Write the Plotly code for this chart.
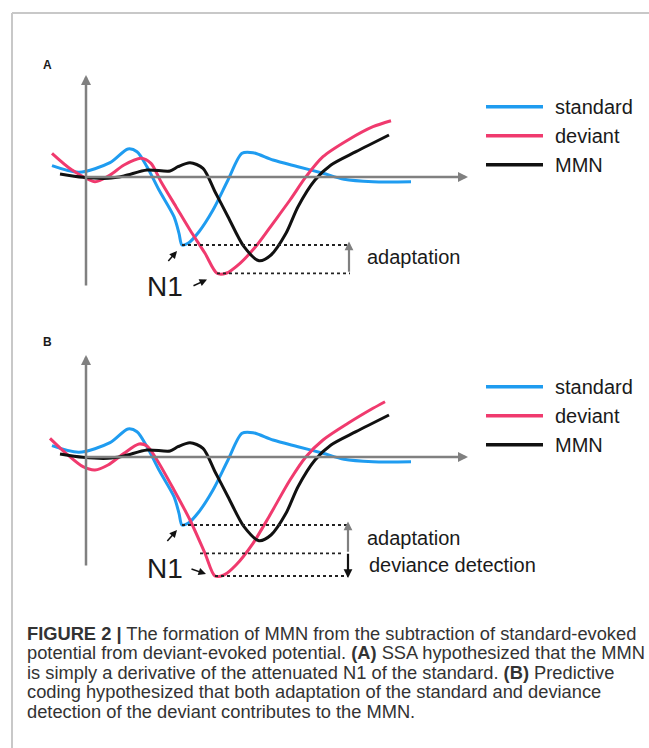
import plotly.graph_objects as go

# ---------------- data (time in ms from stimulus onset, amplitude in arbitrary µV) -------------
std_t = [-34, -7, 24, 42, 51, 61, 73, 88, 93, 96, 102, 113, 127, 142, 156, 167, 187, 212, 237, 258, 287, 325]
std_v = [1.13, 0.47, 1.43, 2.8, 2.53, 1.03, -1.3, -3.97, -5.63, -6.8, -6.63, -5.47, -3.3, -0.3, 2.37, 2.43, 1.7, 1.03, 0.37, -0.23, -0.47, -0.47]

mmn_t = [-26, -3, 22, 38, 61, 84, 92, 104, 117, 129, 142, 158, 173, 185, 200, 212, 229, 245, 270, 303]
mmn_v = [0.3, -0.03, -0.13, 0.1, 0.7, 0.6, 1.03, 1.43, 0.87, -1.47, -3.97, -6.97, -8.37, -7.8, -5.63, -2.97, -0.3, 1.2, 2.53, 4.2]

dev_a_t = [-34, -14, 9, 24, 38, 55, 65, 75, 90, 104, 119, 131, 140, 154, 171, 187, 204, 220, 237, 262, 287, 305]
dev_a_v = [2.37, 0.7, -0.47, 0.2, 1.2, 1.87, 1.37, -0.47, -2.97, -5.3, -7.63, -9.63, -9.63, -8.63, -6.8, -4.63, -2.3, 0.03, 2.03, 3.7, 5.03, 5.63]

dev_b_t = [-36, -20, -3, 9, 22, 38, 53, 61, 71, 88, 104, 119, 129, 138, 150, 167, 183, 204, 220, 237, 262, 287, 299]
dev_b_v = [1.87, 0.37, -0.97, -1.3, -0.8, 0.37, 1.3, 1.1, -0.3, -3.3, -6.3, -9.63, -11.9, -11.8, -10.8, -8.63, -5.97, -2.3, 0.03, 1.7, 3.37, 4.87, 5.53]

series_names = ["standard", "deviant", "MMN"]
series_colors = ["#1f9cf0", "#f03a6e", "#111111"]

caption_lines = [
    "<b>FIGURE 2 |</b> The formation of MMN from the subtraction of standard-evoked",
    "potential from deviant-evoked potential. <b>(A)</b> SSA hypothesized that the MMN",
    "is simply a derivative of the attenuated N1 of the standard. <b>(B)</b> Predictive",
    "coding hypothesized that both adaptation of the standard and deviance",
    "detection of the deviant contributes to the MMN.",
]

# ---------------- layout helpers ----------------
W, H = 649, 748
def px(x):
    return x / W
def py(y):
    return 1 - y / H

BLUE, PINK, BLACK = series_colors
GRAY = "#808080"
TXT = "#1a1a1a"
FONT = "Liberation Sans, Arial, sans-serif"
LW = 3

fig = go.Figure()

panels = [
    ("x", "y", dev_a_t, dev_a_v),
    ("x2", "y2", dev_b_t, dev_b_v),
]
for xa, ya, dt, dv in panels:
    for name, color, tt, vv in [
        ("standard", BLUE, std_t, std_v),
        ("deviant", PINK, dt, dv),
        ("MMN", BLACK, mmn_t, mmn_v),
    ]:
        fig.add_trace(go.Scatter(
            x=tt, y=vv, mode="lines", name=name, xaxis=xa, yaxis=ya,
            line=dict(color=color, width=LW, shape="spline", smoothing=0.8),
            showlegend=False, hoverinfo="skip",
        ))

annotations = []
shapes = []

# frame lines (top and left)
shapes.append(dict(type="line", xref="paper", yref="paper", x0=px(12), x1=px(649), y0=py(13), y1=py(13),
                   line=dict(color="#c8c8c8", width=2)))
shapes.append(dict(type="line", xref="paper", yref="paper", x0=px(12), x1=px(12), y0=py(13), y1=py(748),
                   line=dict(color="#c8c8c8", width=2)))

def arrow(xr, yr, x, y, ax, ay, color, width, size):
    annotations.append(dict(xref=xr, yref=yr, axref=xr, ayref=yr, x=x, y=y, ax=ax, ay=ay,
                            text="", showarrow=True, arrowhead=2, arrowsize=size,
                            arrowwidth=width, arrowcolor=color, standoff=0, startstandoff=0))

def text(xr, yr, x, y, s, size, anchor="left", color=TXT):
    annotations.append(dict(xref=xr, yref=yr, x=x, y=y, text=s, showarrow=False,
                            xanchor=anchor, yanchor="middle",
                            font=dict(family=FONT, size=size, color=color)))

std_min = min(std_v)
std_min_t = std_t[std_v.index(std_min)]

for idx, (xa, ya, dt, dv) in enumerate(panels):
    # axes with arrows
    arrow(xa, ya, 0, 10.2, 0, -11.0, GRAY, 2.5, 0.8)
    arrow(xa, ya, 382, 0, -1, 0, GRAY, 2.5, 0.8)

    dev_min = min(dv)
    dev_min_t = dt[dv.index(dev_min)]
    xr_end = 264 if idx == 0 else 262
    # dotted reference lines at N1 minima
    shapes.append(dict(type="line", xref=xa, yref=ya, x0=std_min_t, x1=xr_end, y0=std_min, y1=std_min,
                       line=dict(color="#222222", width=1.8, dash="dot")))
    shapes.append(dict(type="line", xref=xa, yref=ya, x0=dev_min_t, x1=xr_end, y0=dev_min, y1=dev_min,
                       line=dict(color="#222222", width=1.8, dash="dot")))

    # N1 labels and small arrows
    text(xa, ya, 59, -10.9 if idx == 0 else -11.1, "N1", 28)
    if idx == 0:
        arrow(xa, ya, 91, -7.4, 81, -8.55, "#111111", 1.5, 1.0)
        arrow(xa, ya, 121, -10.25, 106, -10.95, "#111111", 1.5, 1.0)
        arrow(xa, ya, xr_end - 1, std_min + 0.35, xr_end - 1, dev_min, GRAY, 2.2, 0.8)
        text(xa, ya, 279, -8.0, "adaptation", 20)
    else:
        mid = min(dev_a_v)
        shapes.append(dict(type="line", xref=xa, yref=ya, x0=114, x1=xr_end - 4, y0=mid, y1=mid,
                           line=dict(color="#222222", width=1.8, dash="dot")))
        arrow(xa, ya, 91, -7.3, 80, -8.55, "#111111", 1.5, 1.0)
        arrow(xa, ya, 120, -11.7, 104, -11.15, "#111111", 1.5, 1.0)
        arrow(xa, ya, xr_end, std_min + 0.35, xr_end, mid, GRAY, 2.2, 0.8)
        arrow(xa, ya, xr_end, dev_min - 0.2, xr_end, mid + 0.1, "#111111", 2.2, 0.8)
        text(xa, ya, 279, -8.13, "adaptation", 20)
        text(xa, ya, 281, -10.8, "deviance detection", 20)

# panel letters
text("paper", "paper", px(41), py(65), "<b>A</b>", 12)
text("paper", "paper", px(41), py(342), "<b>B</b>", 12)

# legends (one per panel)
for base in (106.7, 386.7):
    for i, (name, color) in enumerate(zip(series_names, series_colors)):
        yy = base + i * 29
        shapes.append(dict(type="line", xref="paper", yref="paper", x0=px(486), x1=px(543),
                           y0=py(yy), y1=py(yy), line=dict(color=color, width=3.5)))
        text("paper", "paper", px(553), py(yy), name, 20)

# caption
for i, line in enumerate(caption_lines):
    text("paper", "paper", px(25), py(633.5 + i * 19.4), line, 18.3, color="#333333")

fig.update_layout(
    width=W, height=H,
    margin=dict(l=0, r=0, t=0, b=0),
    paper_bgcolor="white", plot_bgcolor="white",
    xaxis=dict(domain=[0, 1], range=[-86, 563], visible=False, fixedrange=True),
    yaxis=dict(domain=[0, 1], range=[-57.1, 17.7], visible=False, fixedrange=True),
    xaxis2=dict(domain=[0, 1], range=[-86, 563], visible=False, overlaying="x", anchor="y2", fixedrange=True),
    yaxis2=dict(domain=[0, 1], range=[-29.1, 45.7], visible=False, overlaying="y", anchor="x2", fixedrange=True),
    annotations=annotations,
    shapes=shapes,
    showlegend=False,
)

fig.write_html(
    "out.html",
    config={"displayModeBar": False, "staticPlot": True},
    post_script="document.body.style.margin='0';document.body.style.overflow='hidden';",
)
